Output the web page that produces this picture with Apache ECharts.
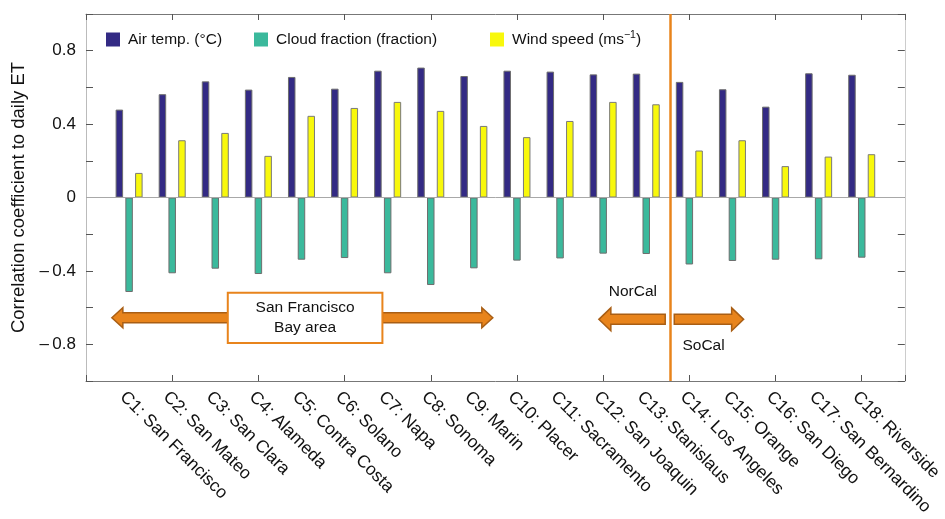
<!DOCTYPE html>
<html>
<head>
<meta charset="utf-8">
<script src="https://cdn.jsdelivr.net/npm/echarts@6/dist/echarts.min.js"></script>
<style>html,body{margin:0;padding:0;background:#fff}#c{width:945px;height:519px}</style>
</head>
<body>
<div id="c"></div>
<script>
const categories = ['C1: San Francisco','C2: San Mateo','C3: San Clara','C4: Alameda','C5: Contra Costa','C6: Solano','C7: Napa','C8: Sonoma','C9: Marin','C10: Placer','C11: Sacramento','C12: San Joaquin','C13: Stanislaus','C14: Los Angeles','C15: Orange','C16: San Diego','C17: San Bernardino','C18: Riverside'];
const airTemp = [0.479,0.563,0.633,0.588,0.657,0.593,0.691,0.708,0.662,0.691,0.686,0.671,0.675,0.630,0.590,0.495,0.677,0.669];
const cloudFraction = [-0.515,-0.413,-0.388,-0.417,-0.339,-0.330,-0.413,-0.477,-0.386,-0.344,-0.332,-0.306,-0.308,-0.365,-0.346,-0.339,-0.337,-0.328];
const windSpeed = [0.134,0.312,0.352,0.227,0.445,0.488,0.521,0.472,0.390,0.329,0.417,0.521,0.508,0.256,0.312,0.171,0.223,0.236];
const yTickLabels = [-0.8,-0.4,0,0.4,0.8];
const dividerX = 13.55;

const FONT = 'Liberation Sans, Arial, Helvetica, sans-serif';
const chart = echarts.init(document.getElementById('c'), null, {renderer:'canvas'});

function fmtY(v){
  const r = Math.round(v*10)/10;
  if (!yTickLabels.some(t => Math.abs(t - r) < 1e-6)) return '';
  if (r === 0) return '0';
  return r < 0 ? '\u2013\u2009' + Math.abs(r).toFixed(1) : r.toFixed(1);
}
const toXY = arr => arr.map((v,i) => [i+1, v]);

const barCommon = {
  type:'bar', xAxisIndex:0, yAxisIndex:0, barWidth:7.5, barGap:'30%',
};
const legendText = {fontSize:15.5, lineHeight:20, color:'#111', fontFamily:FONT, padding:[0,0,0,3]};
const legendCommon = {top:29.5, padding:0, itemWidth:14, itemHeight:14, icon:'rect', itemStyle:{borderWidth:0}};

chart.setOption({
  animation:false,
  textStyle:{fontFamily:FONT},
  grid:{left:86, right:39, top:14, bottom:138, containLabel:false},
  legend:[
    Object.assign({data:['Air temp. (°C)'], left:106, textStyle:legendText}, legendCommon),
    Object.assign({data:['Cloud fraction (fraction)'], left:254, textStyle:legendText}, legendCommon),
    Object.assign({data:['Wind speed'], left:490,
     formatter: () => '{n|Wind speed (ms}{s|\u22121}{n|)}',
     textStyle:Object.assign({}, legendText, {
       rich:{n:{fontSize:15.5, lineHeight:20, fontFamily:FONT, color:'#111'},
             s:{fontSize:10.5, lineHeight:12, verticalAlign:'top', fontFamily:FONT, color:'#111'}}})}, legendCommon)
  ],
  xAxis:[
    {type:'value', min:0, max:19, interval:1, position:'bottom',
     axisLine:{show:true, onZero:false, lineStyle:{color:'#777', width:1}},
     axisTick:{show:false}, splitLine:{show:false},
     axisLabel:{formatter:v => categories[v-1] || '', rotate:-45, align:'left', verticalAlign:'top',
       margin:7, fontSize:17.5, color:'#111', fontFamily:FONT, showMinLabel:true, showMaxLabel:true}},
    {type:'value', min:0, max:19, interval:2, position:'bottom',
     axisLine:{show:false, onZero:false}, axisTick:{show:true, inside:true, length:6, lineStyle:{color:'#555'}},
     axisLabel:{show:false}, splitLine:{show:false}},
    {type:'value', min:0, max:19, interval:2, position:'top',
     axisLine:{show:true, onZero:false, lineStyle:{color:'#777', width:1}},
     axisTick:{show:true, inside:true, length:6, lineStyle:{color:'#555'}},
     axisLabel:{show:false}, splitLine:{show:false}}
  ],
  yAxis:[
    {type:'value', min:-1, max:1, interval:0.2, position:'left',
     name:'Correlation coefficient to daily ET', nameLocation:'middle', nameGap:51, nameRotate:90,
     nameTextStyle:{fontSize:18.5, color:'#111', fontFamily:FONT},
     axisLine:{show:true, onZero:false, lineStyle:{color:'#bbb'}},
     axisTick:{show:true, inside:true, length:7, lineStyle:{color:'#555'}},
     splitLine:{show:false},
     axisLabel:{formatter:fmtY, fontSize:17, color:'#111', margin:10, fontFamily:FONT}},
    {type:'value', min:-1, max:1, interval:0.2, position:'right',
     axisLine:{show:true, onZero:false, lineStyle:{color:'#ccc'}},
     axisTick:{show:true, inside:true, length:7, lineStyle:{color:'#555'}},
     axisLabel:{show:false}, splitLine:{show:false}}
  ],
  series:[
    Object.assign({}, barCommon, {name:'Air temp. (°C)', data:toXY(airTemp),
      itemStyle:{color:'#332a84', borderColor:'#6e6e6e', borderWidth:1},
      markLine:{silent:true, symbol:'none', label:{show:false}, animation:false,
        lineStyle:{color:'#a8a8a8', width:1, type:'solid'}, data:[{yAxis:0}]}}),
    Object.assign({}, barCommon, {name:'Cloud fraction (fraction)', data:toXY(cloudFraction),
      itemStyle:{color:'#3bb99c', borderColor:'#6e6e6e', borderWidth:1},
      markLine:{silent:true, symbol:'none', label:{show:false}, animation:false, z:10,
        lineStyle:{color:'#E8841C', width:2.5, type:'solid'}, data:[{xAxis:dividerX}]}}),
    Object.assign({}, barCommon, {name:'Wind speed', data:toXY(windSpeed),
      itemStyle:{color:'#f8f80c', borderColor:'#7a7a7a', borderWidth:1}})
  ]
});

// annotation anchors in data units
const ann = {
  sfY:-0.655, sfLeftTip:0.60, sfBoxL:3.29, sfBoxR:6.878, sfRightTip:9.44, sfBoxTop:-0.519, sfBoxBot:-0.793,
  ncY:-0.664, ncTip:11.90, ncTail:13.44, scTail:13.65, scTip:15.26,
  ncTextX:12.69, ncTextY:-0.515, scTextX:14.33, scTextY:-0.81
};
const X = u => chart.convertToPixel({xAxisIndex:0}, u);
const Y = v => chart.convertToPixel({yAxisIndex:0}, v);

function arrow(tail, tip, y, headLen, headHalf, shaftHalf){
  const d = tip > tail ? 1 : -1;
  const b = tip - d*headLen;
  return {type:'polygon', z:20,
    shape:{points:[[tip,y],[b,y-headHalf],[b,y-shaftHalf],[tail,y-shaftHalf],[tail,y+shaftHalf],[b,y+shaftHalf],[b,y+headHalf]]},
    style:{fill:'#E8841C', stroke:'#A95E14', lineWidth:1.5}};
}
const sfy = Y(ann.sfY), ncy = Y(ann.ncY);
const bxL = X(ann.sfBoxL), bxR = X(ann.sfBoxR), byT = Y(ann.sfBoxTop), byB = Y(ann.sfBoxBot);
chart.setOption({graphic:[
  arrow(bxL, X(ann.sfLeftTip), sfy, 11, 10, 5),
  arrow(bxR, X(ann.sfRightTip), sfy, 11, 10, 5),
  {type:'rect', z:21, shape:{x:bxL, y:byT, width:bxR-bxL, height:byB-byT},
   style:{fill:'#fff', stroke:'#E8841C', lineWidth:2}},
  {type:'text', z:22, x:(bxL+bxR)/2, y:(byT+byB)/2,
   style:{text:'San Francisco\nBay area', align:'center', verticalAlign:'middle', fontSize:15.5, lineHeight:19.5, fill:'#111', fontFamily:FONT}},
  arrow(X(ann.ncTail), X(ann.ncTip), ncy, 12, 11.5, 5),
  arrow(X(ann.scTail), X(ann.scTip), ncy, 12, 11.5, 5),
  {type:'text', z:22, x:X(ann.ncTextX), y:Y(ann.ncTextY),
   style:{text:'NorCal', align:'center', verticalAlign:'middle', fontSize:15.5, fill:'#111', fontFamily:FONT}},
  {type:'text', z:22, x:X(ann.scTextX), y:Y(ann.scTextY),
   style:{text:'SoCal', align:'center', verticalAlign:'middle', fontSize:15.5, fill:'#111', fontFamily:FONT}}
]});
</script>
</body>
</html>
